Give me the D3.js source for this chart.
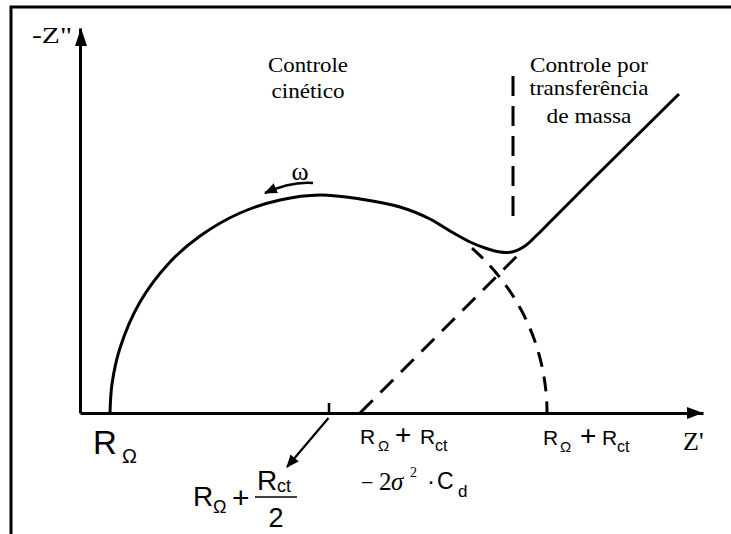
<!DOCTYPE html>
<html>
<head>
<meta charset="utf-8">
<script src="https://cdn.jsdelivr.net/npm/d3@7"></script>
<style>
  html, body { margin: 0; padding: 0; background: #fff; }
  svg { display: block; }
</style>
</head>
<body>
<svg id="chart" width="731" height="534"></svg>
<script>
// Nyquist plot of a Randles cell: kinetic semicircle + Warburg diffusion line.
// Impedance values in arbitrary ohm-like units.
const R_OMEGA = 30;            // uncompensated resistance R_Ω
const R_CT = 437;              // charge-transfer resistance R_ct
const WARBURG_INTERCEPT = 280; // R_Ω + R_ct − 2σ²·C_d
const WARBURG_END = 163;       // -Z'' where the extrapolated line stops

// measured impedance curve (Z', -Z'')
const zReal = [30, 32, 40, 60, 90, 120, 160, 200, 240, 280, 320, 350, 370, 390, 405, 420, 432, 445, 457, 470, 520, 599];
const zImag = [0, 29, 65, 111, 151, 177, 200, 213, 218, 214, 206, 194, 182, 171, 165, 161, 161, 167, 178, 191, 241, 319];

// boundary between kinetic and mass-transfer control
const boundaryReal = 433;
const boundaryImag = [197, 337];

// frequency direction arrow (ω)
const omegaArrowReal = [233, 212, 185];
const omegaArrowImag = [230, 232, 220];

const SERIF = '"Liberation Serif", "Times New Roman", Times, serif';
const SANS = '"Liberation Sans", Arial, Helvetica, sans-serif';

const svg = d3.select("#chart");
const x = d3.scaleLinear().domain([0, 623]).range([80, 703]);
const y = d3.scaleLinear().domain([0, 385]).range([413, 28]);

// outer frame (top and left edges)
svg.append("path")
  .attr("d", "M11,534 L11,7 L731,7")
  .attr("fill", "none").attr("stroke", "#000").attr("stroke-width", 3);

// arrowhead marker
const defs = svg.append("defs");
defs.append("marker")
  .attr("id", "head").attr("viewBox", "0 0 12 10")
  .attr("refX", 11).attr("refY", 5)
  .attr("markerWidth", 13).attr("markerHeight", 11)
  .attr("markerUnits", "userSpaceOnUse")
  .attr("orient", "auto")
  .append("path").attr("d", "M0,0 L12,5 L0,10 Z").attr("fill", "#000");

// axes
const xAxis = d3.axisBottom(x)
  .tickValues([R_OMEGA + R_CT / 2])
  .tickSizeInner(-10).tickSizeOuter(0).tickFormat("");
const gx = svg.append("g").attr("transform", `translate(0,${y(0)})`).call(xAxis);
gx.select(".domain").attr("stroke-width", 3);
gx.selectAll(".tick line").attr("stroke-width", 2.5);

const yAxis = d3.axisLeft(y).tickValues([]).tickSizeOuter(0);
const gy = svg.append("g").attr("transform", `translate(${x(0)},0)`).call(yAxis);
gy.select(".domain").attr("stroke-width", 3);

// axis arrowheads
const [x0, x1] = x.range();
const [y0, y1] = y.range();
svg.append("path")
  .attr("d", `M${x1},${y0} L${x1 - 16},${y0 - 6} L${x1 - 16},${y0 + 6} Z`)
  .attr("fill", "#000");
svg.append("path")
  .attr("d", `M${x0 + 1},${y1} L${x0 - 5},${y1 + 18} L${x0 + 7},${y1 + 18} Z`)
  .attr("fill", "#000");

const line = d3.line().x(d => x(d[0])).y(d => y(d[1]));

// extrapolated charge-transfer semicircle (dashed part)
const cx = R_OMEGA + R_CT / 2, r = R_CT / 2;
const th0 = Math.acos((392 - cx) / r);
const arcPts = d3.range(th0, -0.0001, -0.01).map(t => [cx + r * Math.cos(t), r * Math.sin(t)]);
arcPts.push([R_OMEGA + R_CT, 0]);
svg.append("path")
  .attr("d", line(arcPts))
  .attr("fill", "none").attr("stroke", "#000").attr("stroke-width", 3)
  .attr("stroke-dasharray", "15,10");

// extrapolated Warburg line (dashed)
svg.append("path")
  .attr("d", line([[WARBURG_INTERCEPT, 0], [WARBURG_INTERCEPT + WARBURG_END, WARBURG_END]]))
  .attr("fill", "none").attr("stroke", "#000").attr("stroke-width", 3)
  .attr("stroke-dasharray", "18,11");

// boundary (dashed vertical)
svg.append("path")
  .attr("d", line(boundaryImag.map(v => [boundaryReal, v])))
  .attr("fill", "none").attr("stroke", "#000").attr("stroke-width", 3)
  .attr("stroke-dasharray", "20,10");

// impedance curve
const curve = d3.line().x(d => x(d[0])).y(d => y(d[1])).curve(d3.curveCatmullRom.alpha(0.5));
svg.append("path")
  .attr("d", curve(zReal.map((v, i) => [v, zImag[i]])))
  .attr("fill", "none").attr("stroke", "#000").attr("stroke-width", 3)
  .attr("stroke-linejoin", "round");

// ω arrow
const omegaPath = d3.path();
omegaPath.moveTo(x(omegaArrowReal[0]), y(omegaArrowImag[0]));
omegaPath.quadraticCurveTo(x(omegaArrowReal[1]), y(omegaArrowImag[1]), x(omegaArrowReal[2]), y(omegaArrowImag[2]));
svg.append("path")
  .attr("d", omegaPath.toString())
  .attr("fill", "none").attr("stroke", "#000").attr("stroke-width", 2.5)
  .attr("marker-end", "url(#head)");

// pointer from the semicircle centre to its label
svg.append("line")
  .attr("x1", x(cx)).attr("y1", y(0) + 5)
  .attr("x2", 287).attr("y2", 467)
  .attr("stroke", "#000").attr("stroke-width", 2.2)
  .attr("marker-end", "url(#head)");

// ---- text ----
function txt(str, px, py, size, family, opts = {}) {
  const t = svg.append("text").attr("x", px).attr("y", py)
    .style("font-family", family).style("font-size", size + "px")
    .attr("fill", "#000").text(str);
  if (opts.anchor) t.attr("text-anchor", opts.anchor);
  if (opts.len) t.attr("textLength", opts.len).attr("lengthAdjust", "spacingAndGlyphs");
  if (opts.italic) t.style("font-style", "italic");
  return t;
}

// axis titles
txt("-Z\"", 32, 43, 23, SERIF, { len: 40 });
txt("Z'", 683, 450, 26, SERIF);

// region captions
txt("Controle", 308, 72, 21, SERIF, { anchor: "middle", len: 80 });
txt("cinético", 308, 98, 21, SERIF, { anchor: "middle", len: 73 });
txt("Controle por", 589, 72, 21, SERIF, { anchor: "middle", len: 118 });
txt("transferência", 589, 95, 21, SERIF, { anchor: "middle", len: 119 });
txt("de massa", 589, 123, 21, SERIF, { anchor: "middle", len: 85 });
txt("ω", 300, 180, 26, SERIF, { anchor: "middle" });

// R_Ω
txt("R", 93, 454, 33, SANS);
txt("Ω", 122, 463, 20, SANS);

// R_Ω + R_ct / 2
txt("R", 193, 506, 28, SANS);
txt("Ω", 213, 513, 18, SANS);
txt("+", 232, 508, 30, SANS);
txt("R", 257, 490, 28, SANS);
txt("ct", 277, 492, 18, SANS);
svg.append("line").attr("x1", 255).attr("x2", 297).attr("y1", 497).attr("y2", 497)
  .attr("stroke", "#000").attr("stroke-width", 1.5);
txt("2", 276, 527, 27, SANS, { anchor: "middle" });

// R_Ω + R_ct − 2σ²·C_d
txt("R", 360, 444, 21, SANS);
txt("Ω", 378, 451, 15, SANS);
txt("+", 395, 444, 28, SANS);
txt("R", 420, 444, 21, SANS);
txt("ct", 435, 451, 16, SANS);
txt("−", 361, 490, 22, SERIF);
txt("2", 379, 490, 25, SERIF);
txt("σ", 391, 490, 25, SERIF, { italic: true });
txt("2", 410, 477, 14, SERIF);
txt("·", 427, 489, 24, SANS);
txt("C", 437, 489, 23, SANS);
txt("d", 458, 497, 17, SANS);

// R_Ω + R_ct
txt("R", 543, 445, 21, SANS);
txt("Ω", 560, 452, 15, SANS);
txt("+", 580, 445, 28, SANS);
txt("R", 602, 445, 21, SANS);
txt("ct", 617, 452, 16, SANS);
</script>
</body>
</html>
